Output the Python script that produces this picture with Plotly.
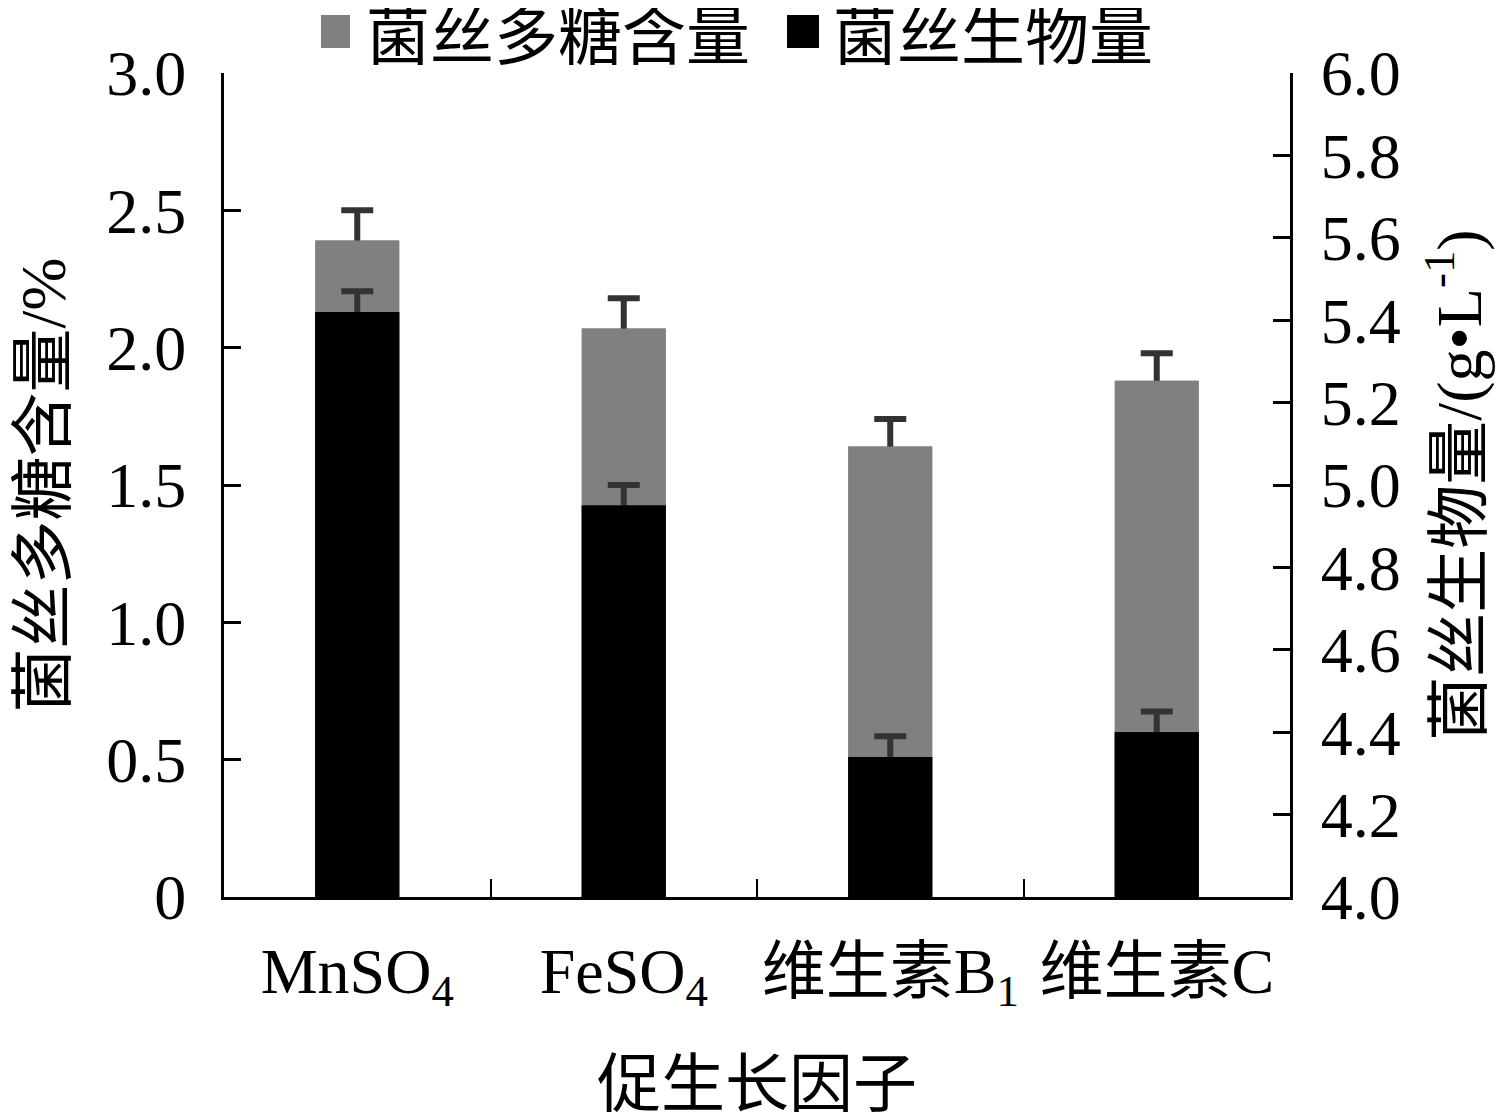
import plotly.graph_objects as go

# data
categories = ["MnSO<sub>4</sub>", "FeSO<sub>4</sub>", "维生素B<sub>1</sub>", "维生素C"]
polysaccharide = [2.39, 2.07, 1.64, 1.88]      # %
polysaccharide_err = [0.11, 0.11, 0.10, 0.10]
biomass = [5.42, 4.95, 4.34, 4.40]             # g/L
biomass_err = [0.05, 0.05, 0.05, 0.05]

left_ticks = [0, 0.5, 1.0, 1.5, 2.0, 2.5, 3.0]
left_labels = ["0", "0.5", "1.0", "1.5", "2.0", "2.5", "3.0"]
right_ticks = [4.0, 4.2, 4.4, 4.6, 4.8, 5.0, 5.2, 5.4, 5.6, 5.8, 6.0]

FONT = "Liberation Serif, Times New Roman, Noto Sans CJK SC"
FS = 64
BAR_W = 0.315
ERR = dict(type="data", symmetric=True, color="#333333", thickness=6, width=16)

fig = go.Figure()

# each series: bar with error bar, then the same bar again on top so only
# the upper half of the error bar stays visible
fig.add_trace(go.Bar(
    x=categories, y=polysaccharide, name="菌丝多糖含量",
    marker=dict(color="#808080", line=dict(width=0)),
    width=BAR_W, yaxis="y", showlegend=False,
    error_y=dict(array=polysaccharide_err, **ERR),
))
fig.add_trace(go.Bar(
    x=categories, y=polysaccharide, name="菌丝多糖含量",
    marker=dict(color="#808080", line=dict(width=0)),
    width=BAR_W, yaxis="y", showlegend=False, hoverinfo="skip",
))
fig.add_trace(go.Bar(
    x=categories, y=biomass, name="菌丝生物量",
    marker=dict(color="#000000", line=dict(width=0)),
    width=BAR_W, yaxis="y2", showlegend=False,
    error_y=dict(array=biomass_err, **ERR),
))
fig.add_trace(go.Bar(
    x=categories, y=biomass, name="菌丝生物量",
    marker=dict(color="#000000", line=dict(width=0)),
    width=BAR_W, yaxis="y2", showlegend=False, hoverinfo="skip",
))

# legend drawn by hand so the swatches match the size in the original
fig.add_shape(type="rect", xref="paper", yref="paper",
              x0=(321 - 224) / 1066, x1=(350 - 224) / 1066,
              y0=(897 - 48) / 824, y1=(897 - 15) / 824,
              fillcolor="#808080", line=dict(width=0))
fig.add_shape(type="rect", xref="paper", yref="paper",
              x0=(787 - 224) / 1066, x1=(819 - 224) / 1066,
              y0=(897 - 48) / 824, y1=(897 - 15) / 824,
              fillcolor="#000000", line=dict(width=0))
fig.add_annotation(text="菌丝多糖含量", xref="paper", yref="paper",
                   x=(364 - 224) / 1066, y=(897 - 37) / 824,
                   xanchor="left", yanchor="middle", showarrow=False,
                   font=dict(family=FONT, size=FS, color="black"))
fig.add_annotation(text="菌丝生物量", xref="paper", yref="paper",
                   x=(831 - 224) / 1066, y=(897 - 37) / 824,
                   xanchor="left", yanchor="middle", showarrow=False,
                   font=dict(family=FONT, size=FS, color="black"))

title_font = dict(family=FONT, size=FS, color="black")

fig.update_layout(
    width=1496, height=1112,
    margin=dict(l=216, r=214, t=65, b=223),
    paper_bgcolor="white", plot_bgcolor="white",
    barmode="overlay",
    font=dict(family=FONT, size=FS, color="black"),
    xaxis=dict(
        title=dict(text="促生长因子", standoff=46, font=title_font),
        showline=True, linecolor="black", linewidth=3,
        ticks="inside", tickson="boundaries", ticklen=18, tickwidth=2,
        tickcolor="black", ticklabelstandoff=16, tickangle=0,
        showgrid=False, zeroline=False,
    ),
    yaxis=dict(
        title=dict(text="菌丝多糖含量/%", standoff=39, font=title_font),
        range=[0, 3.0], tickvals=left_ticks, ticktext=left_labels,
        showline=True, linecolor="black", linewidth=3,
        ticks="inside", ticklen=17, tickwidth=3, tickcolor="black",
        ticklabelstandoff=22,
        showgrid=False, zeroline=False,
    ),
    yaxis2=dict(
        title=dict(text="菌丝生物量/(g•L<sup>-1</sup>)", standoff=37, font=title_font),
        range=[4.0, 6.0], tickvals=right_ticks, tickformat=".1f",
        overlaying="y", side="right",
        showline=True, linecolor="black", linewidth=3,
        ticks="inside", ticklen=17, tickwidth=3, tickcolor="black",
        ticklabelstandoff=15,
        showgrid=False, zeroline=False,
    ),
)

fig.write_html("out.html")
